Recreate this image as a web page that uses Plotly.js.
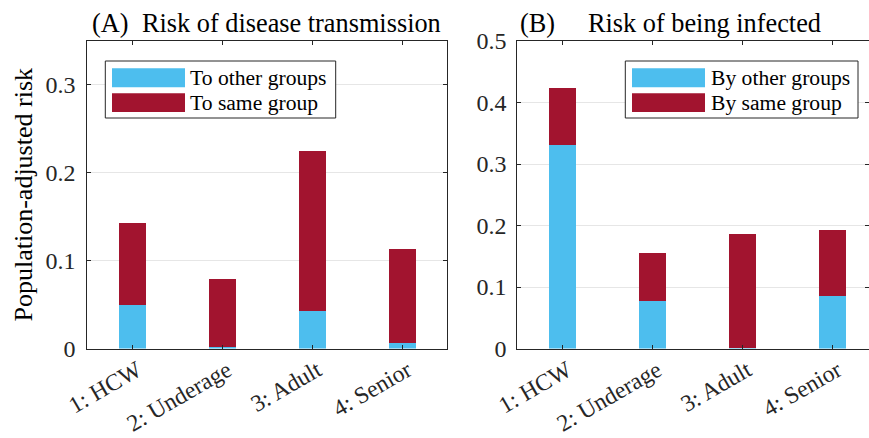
<!DOCTYPE html>
<html>
<head>
<meta charset="utf-8">
<script src="https://cdn.plot.ly/plotly-3.0.1.min.js"></script>
<style>html,body{margin:0;padding:0;background:#fff;}#chart{width:869px;height:438px;}</style>
</head>
<body>
<div id="chart"></div>
<script>
var categories = ['1: HCW', '2: Underage', '3: Adult', '4: Senior'];
var transOther = [0.049, 0.0014, 0.043, 0.0065];
var transSame = [0.094, 0.078, 0.182, 0.107];
var infOther = [0.331, 0.078, 0.0014, 0.086];
var infSame = [0.093, 0.077, 0.184, 0.107];
var legendA = ['To other groups', 'To same group'];
var legendB = ['By other groups', 'By same group'];
var yTicksA = [0, 0.1, 0.2, 0.3];
var yTicksB = [0, 0.1, 0.2, 0.3, 0.4, 0.5];

var cOther = '#4DBEEE', cSame = '#A2142F';
var FONT = 'Liberation Serif';
var W = 869, H = 438;
function px(x) { return x / W; }
function py(y) { return 1 - y / H; }

function bar(x, y, color, xa, ya, name) {
  return {type: 'bar', x: x, y: y, name: name, xaxis: xa, yaxis: ya, width: 0.3,
    marker: {color: color, line: {width: 0}}, showlegend: false, hoverinfo: 'none'};
}
var data = [
  bar(categories, transOther, cOther, 'x', 'y', legendA[0]),
  bar(categories, transSame, cSame, 'x', 'y', legendA[1]),
  bar(categories, infOther, cOther, 'x2', 'y2', legendB[0]),
  bar(categories, infSame, cSame, 'x2', 'y2', legendB[1])
];

function axCommon() {
  return {showline: true, linecolor: '#262626', linewidth: 1, mirror: 'ticks', ticks: 'inside',
    ticklen: 4, tickcolor: '#262626', tickfont: {family: FONT, size: 24, color: '#262626'},
    zeroline: false, fixedrange: true};
}
function xa(domain, range, anchor) {
  var a = Object.assign(axCommon(), {domain: domain, range: range, type: 'category', tickangle: -30,
    showgrid: false, anchor: anchor, ticklabelshift: 5, ticklabelstandoff: -2});
  a.tickfont.size = 23.6;
  return a;
}
function ya(domain, range, tv, anchor, standoff) {
  return Object.assign(axCommon(), {domain: domain, range: range, tickvals: tv, ticktext: tv.map(String),
    showgrid: true, gridcolor: '#e6e6e6', gridwidth: 1, anchor: anchor, ticklabelstandoff: standoff});
}
var yDom = [py(348.5), py(41)];
var yA = ya(yDom, [0, 0.35], yTicksA, 'x', 6);
yA.title = {text: 'Population-adjusted risk', font: {family: FONT, size: 26, color: '#000'}, standoff: 4.5};
var layout = {
  width: W, height: H, autosize: false,
  margin: {l: 0, r: 0, t: 0, b: 0, pad: 0},
  paper_bgcolor: '#fff', plot_bgcolor: '#fff',
  barmode: 'stack', bargap: 0,
  font: {family: FONT, color: '#000', size: 22},
  xaxis: xa([px(87.3), px(447.3)], [-0.5, 3.5], 'y'),
  yaxis: yA,
  xaxis2: xa([px(517.3), 1], [-0.5, -0.5 + (W - 517.3) / 90], 'y2'),
  yaxis2: ya(yDom, [0, 0.5], yTicksB, 'x2', 5),
  shapes: [], annotations: []
};

function addTitle(txt, xl, yc) {
  layout.annotations.push({text: txt, xref: 'paper', yref: 'paper', x: px(xl), y: py(yc),
    xanchor: 'left', yanchor: 'middle', showarrow: false, font: {family: FONT, size: 26.3, color: '#000'}});
}
addTitle('(A)', 89.7, 23);
addTitle('Risk of disease transmission', 139.7, 23);
addTitle('(B)', 517.5, 23);
addTitle('Risk of being infected', 586.3, 23);

function addLegend(labels, x0, x1, sx0, sx1, tx) {
  layout.shapes.push({type: 'rect', xref: 'paper', yref: 'paper', x0: px(x0), x1: px(x1), y0: py(61), y1: py(118),
    line: {color: '#262626', width: 1}, fillcolor: '#fff', layer: 'above'});
  var rows = [[68.3, 87.3], [93.3, 112]];
  var cols = [cOther, cSame];
  for (var i = 0; i < 2; i++) {
    layout.shapes.push({type: 'rect', xref: 'paper', yref: 'paper', x0: px(sx0), x1: px(sx1), y0: py(rows[i][1]), y1: py(rows[i][0]),
      line: {width: 0}, fillcolor: cols[i], layer: 'above'});
    layout.annotations.push({text: labels[i], xref: 'paper', yref: 'paper', x: px(tx), y: py((rows[i][0] + rows[i][1]) / 2),
      xanchor: 'left', yanchor: 'middle', showarrow: false, font: {family: FONT, size: 21.6, color: '#000'}});
  }
}
addLegend(legendA, 105.3, 335.7, 112, 185, 188);
addLegend(legendB, 625.3, 858, 632, 705, 708.7);

Plotly.newPlot('chart', data, layout, {staticPlot: true, displayModeBar: false});
</script>
</body>
</html>
